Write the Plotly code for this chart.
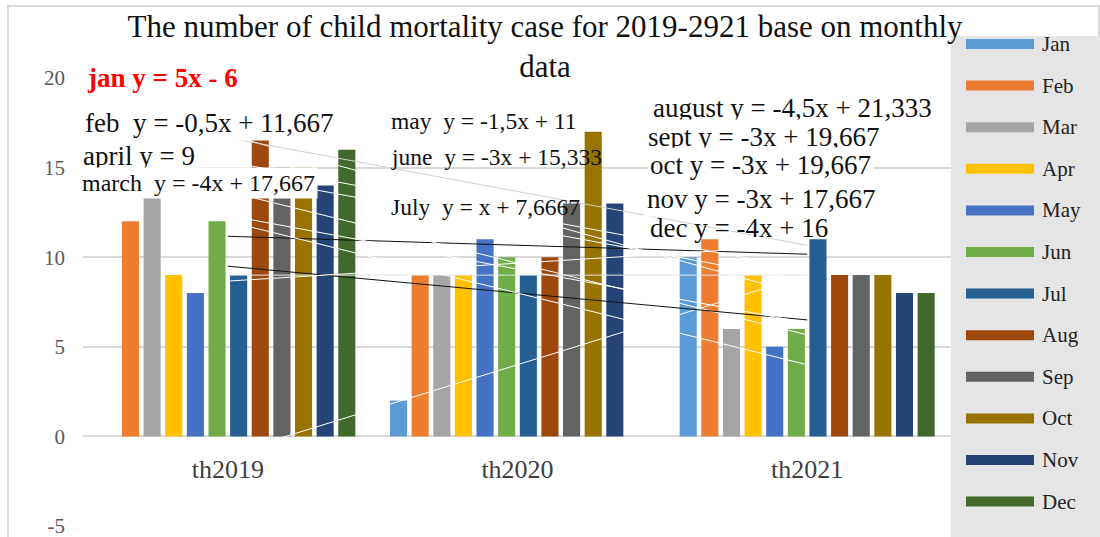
import numpy as np
import plotly.graph_objects as go

# --- data ---
years = ['th2019', 'th2020', 'th2021']
months = ['Jan', 'Feb', 'Mar', 'Apr', 'May', 'Jun', 'Jul', 'Aug', 'Sep', 'Oct', 'Nov', 'Dec']

jan = [0, 2, 10]
feb = [12, 9, 11]
mar = [14, 9, 6]
apr = [9, 9, 9]
may = [8, 11, 5]
jun = [12, 10, 6]
jul = [9, 9, 11]
aug = [18, 10, 9]
sep = [15, 13, 9]
oct_ = [15, 17, 9]
nov = [14, 13, 8]
dec = [16, 0, 8]
series = [jan, feb, mar, apr, may, jun, jul, aug, sep, oct_, nov, dec]

colors = ['#5B9BD5', '#ED7D31', '#A5A5A5', '#FFC000', '#4472C4', '#70AD47',
          '#255E91', '#9E480E', '#636363', '#997300', '#264478', '#43682B']
# trendline colours (most are white, two black, one light grey)
trend_colors = ['#ffffff', '#111111', '#ffffff', '#e6e6e6', '#111111', '#ffffff',
                '#ffffff', '#ffffff', '#ffffff', '#d0d0d0', '#ffffff', '#ffffff']

title = 'The number of child mortality case for 2019-2921 base on monthly<br>data'

# trendline equation labels as printed on the chart
eq_text = ['jan y = 5x - 6', 'feb\u00a0 y = -0,5x + 11,667', 'april y = 9',
           'march\u00a0 y = -4x + 17,667', 'may\u00a0 y = -1,5x + 11',
           'june\u00a0 y = -3x + 15,333', 'July\u00a0 y = x + 7,6667',
           'august y = -4,5x + 21,333', 'sept y = -3x + 19,667',
           'oct y = -3x + 19,667', 'nov y = -3x + 17,667', 'dec y = -4x + 16']
# label placement in pixels (left x, centre y), font size, white box or not
eq_pos = [(84, 78), (82, 123), (80, 156), (79, 183), (388, 121), (388, 157), (388, 207),
          (650, 108), (645, 137), (647, 165), (644, 199), (647, 228)]
eq_size = [27, 27, 27, 24, 23.5, 23.5, 23.5, 27, 27, 27, 27, 27]
eq_bg = [True, True, True, True, False, False, False, True, True, True, True, False]

ymin, ymax = -5, 20

W, H = 1100, 537
L, R, T, B = 83, 148, 78, 11
pw, ph = W - L - R, H - T - B


def px(x):
    return (x - L) / pw


def py(y):
    return (H - B - y) / ph


font_family = 'Liberation Serif, Times New Roman, serif'

fig = go.Figure()
for name, vals, c in zip(months, series, colors):
    fig.add_trace(go.Bar(x=years, y=vals, name=name, marker_color=c,
                         marker_line_width=0, showlegend=False))

# linear trendlines, x = 1,2,3 like Excel
xs = np.arange(1, len(years) + 1)
for name, vals, tc in zip(months, series, trend_colors):
    slope, icpt = np.polyfit(xs, vals, 1)
    fig.add_trace(go.Scatter(x=years, y=slope * xs + icpt, mode='lines',
                             line=dict(color=tc, width=1), showlegend=False,
                             hoverinfo='skip'))

annotations = []
for i, (txt, (ax, ay), sz, bg) in enumerate(zip(eq_text, eq_pos, eq_size, eq_bg)):
    first = i == 0
    annotations.append(dict(
        x=px(ax), y=py(ay), xref='paper', yref='paper', xanchor='left', yanchor='middle',
        text=f'<b>{txt}</b>' if first else txt, showarrow=False,
        font=dict(family=font_family, size=sz,
                  color='#ff0000' if first else '#111111'),
        bgcolor='white' if bg else 'rgba(0,0,0,0)', borderpad=2))

shapes = [
    # chart area border
    dict(type='rect', xref='paper', yref='paper', x0=px(8), y0=py(6), x1=px(1099), y1=py(560),
         line=dict(color='#d9d9d9', width=2), layer='below'),
    # legend box
    dict(type='rect', xref='paper', yref='paper', x0=px(951), y0=py(36), x1=px(1101), y1=py(540),
         fillcolor='#e5e5e5', line=dict(width=0), layer='above'),
]
for i, (name, c) in enumerate(zip(months, colors)):
    yc = 44 + i * 41.6
    shapes.append(dict(type='rect', xref='paper', yref='paper', x0=px(966), x1=px(1034),
                       y0=py(yc - 5), y1=py(yc + 5), fillcolor=c, line=dict(width=0),
                       layer='above'))
    annotations.append(dict(x=px(1040), y=py(yc), xref='paper', yref='paper',
                            xanchor='left', yanchor='middle', text=name, showarrow=False,
                            font=dict(family=font_family, size=21, color='#222222')))

yticks = list(range(ymin, ymax + 1, 5))

fig.update_layout(
    width=W, height=H,
    margin=dict(l=L, r=R, t=T, b=B, autoexpand=False),
    paper_bgcolor='white', plot_bgcolor='white',
    barmode='group', bargap=0.104, bargroupgap=0.21,
    title=dict(text=title, x=0.4955, xanchor='center', xref='container',
               y=1 - 37 / H, yanchor='top',
               font=dict(family=font_family, size=31, color='#111111')),
    xaxis=dict(anchor='free', position=(0 - ymin) / (ymax - ymin), showgrid=False,
               showline=False, ticks='', ticklabelstandoff=15,
               tickfont=dict(family=font_family, size=26, color='#404040')),
    yaxis=dict(range=[ymin, ymax], tickvals=yticks, ticktext=[str(v) for v in yticks],
               gridcolor='#d9d9d9', gridwidth=1.5, ticklabeloverflow='allow',
               zeroline=False, showline=False, ticks='', ticklabelstandoff=17,
               tickfont=dict(family=font_family, size=21, color='#595959')),
    shapes=shapes,
    annotations=annotations,
    showlegend=False,
)

# drop the default 8px page margin so the figure sits at the window corner
fig.write_html('out.html', config={'displayModeBar': False},
               post_script="document.body.style.margin='0';")
